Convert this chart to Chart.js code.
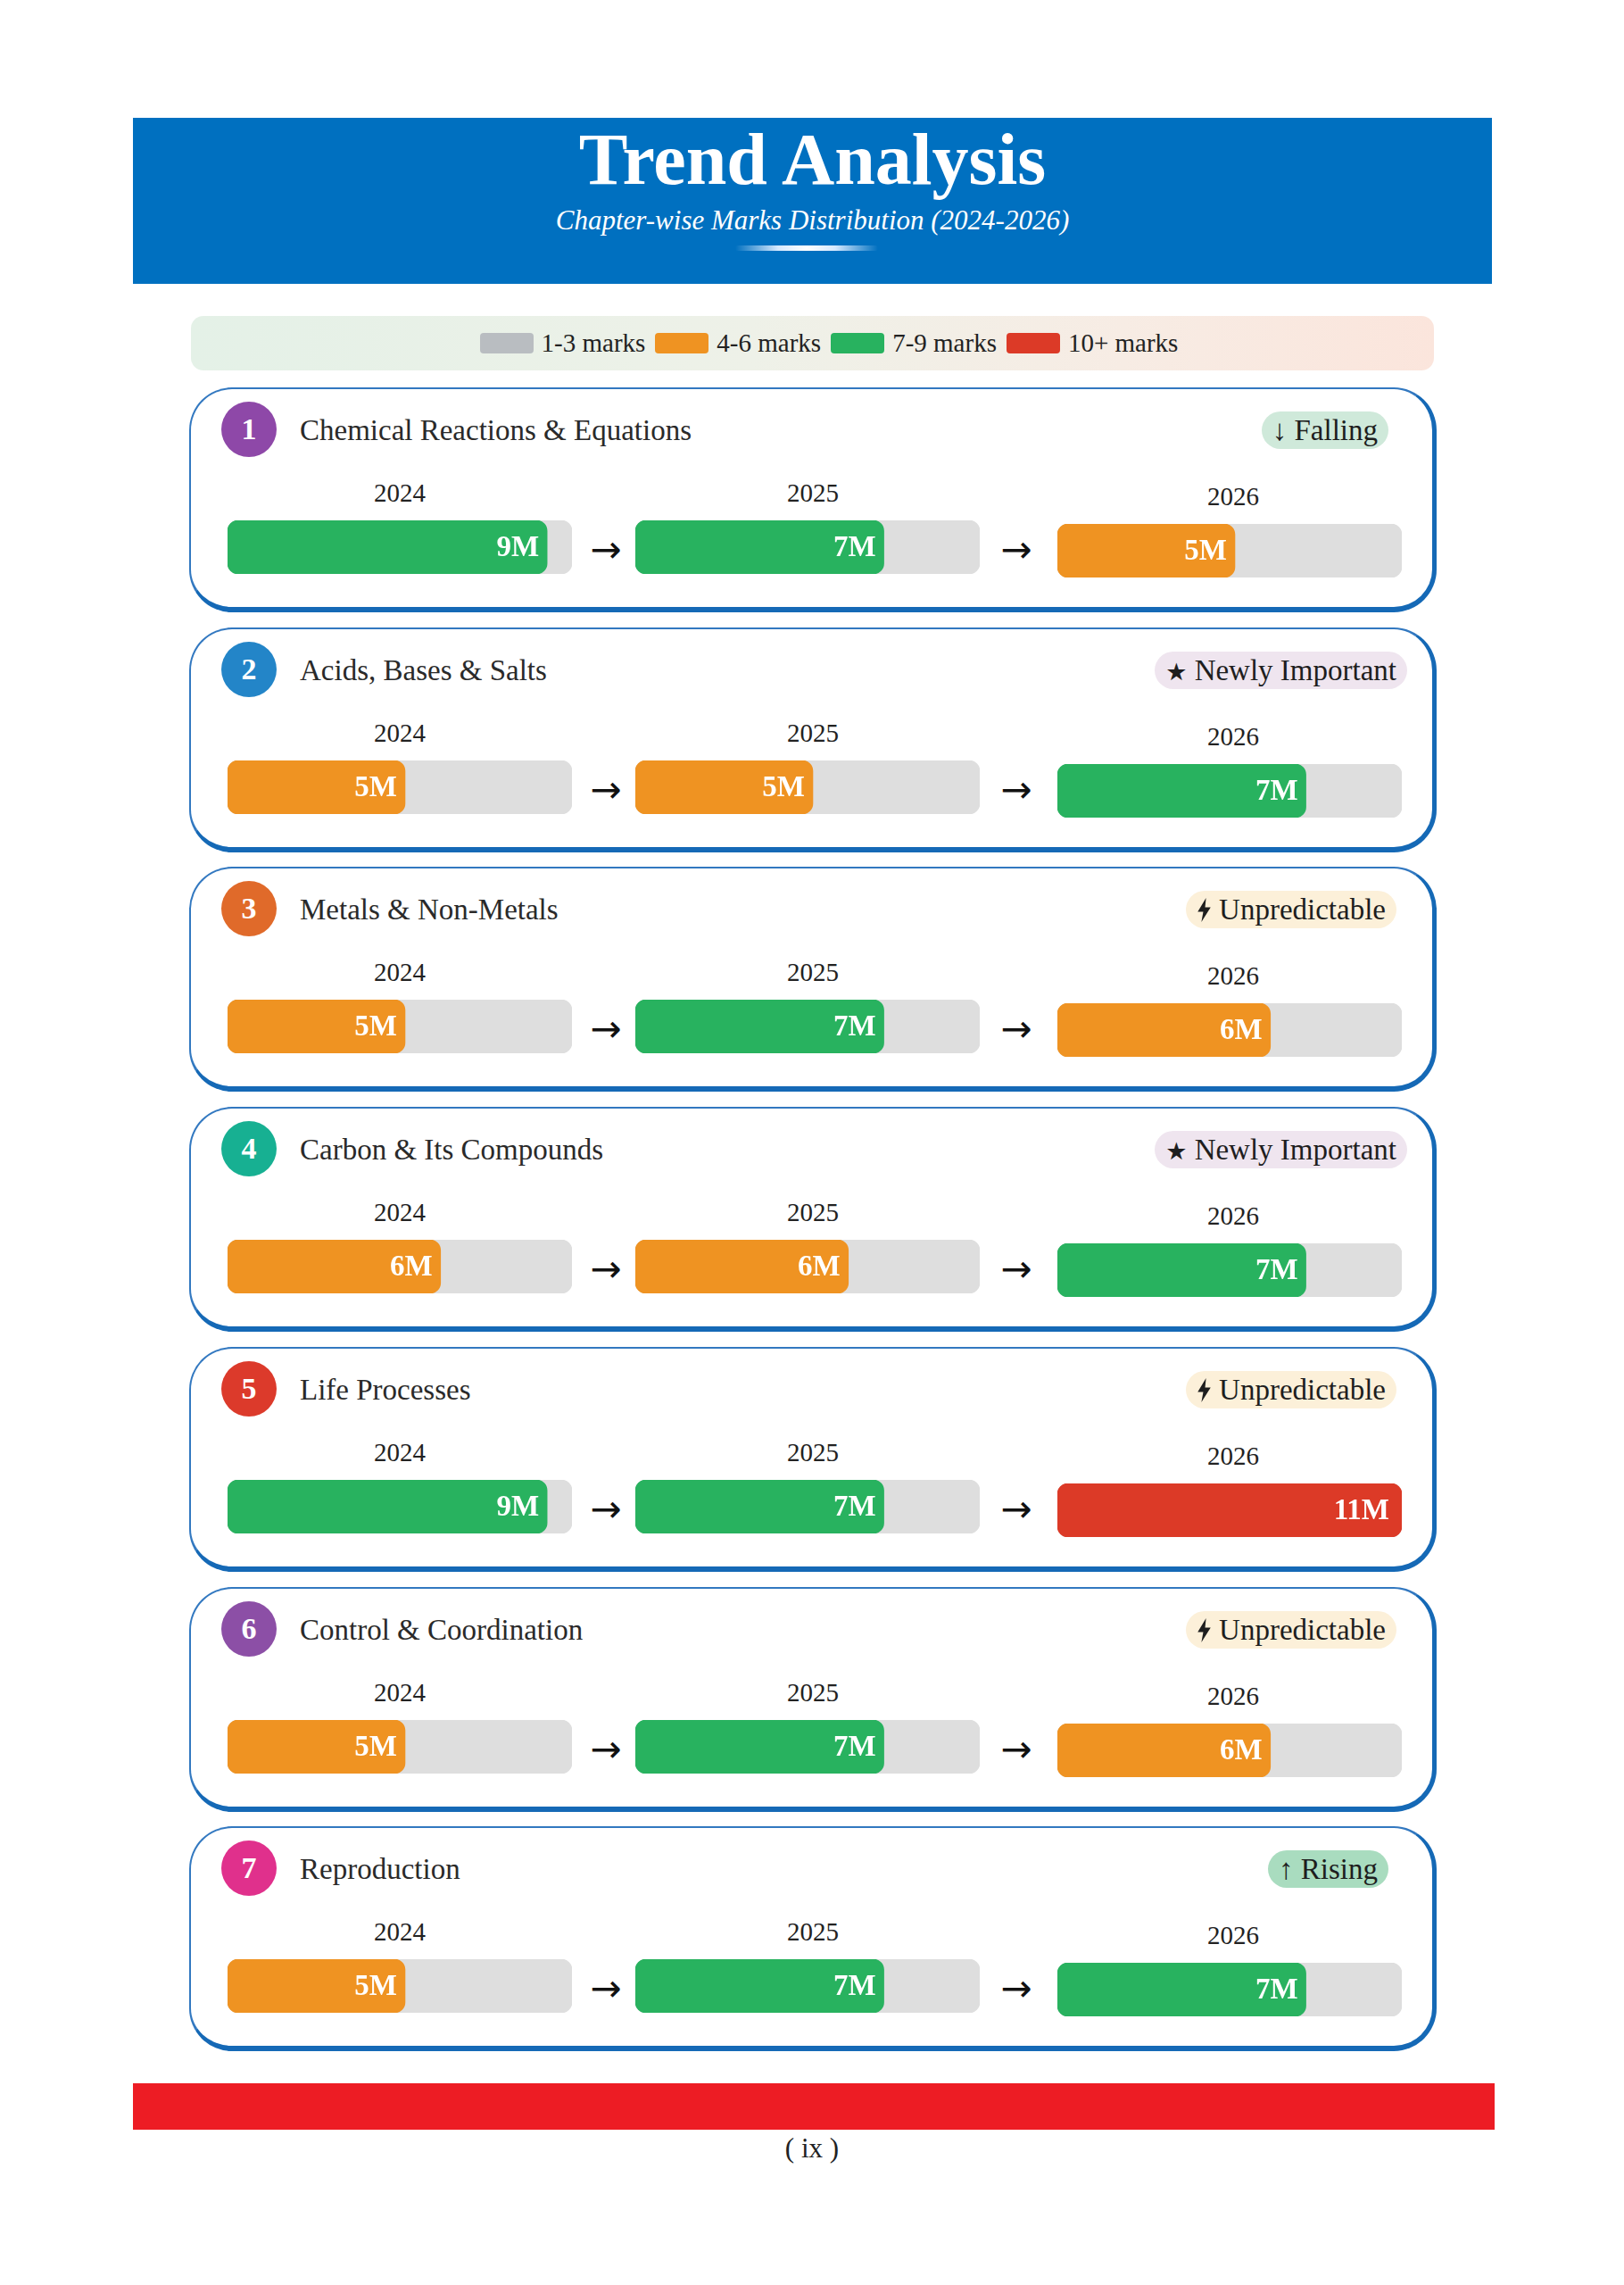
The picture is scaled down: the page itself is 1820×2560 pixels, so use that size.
<!DOCTYPE html>
<html>
<head>
<meta charset="utf-8">
<title>Trend Analysis</title>
<script src="https://cdn.jsdelivr.net/npm/chart.js@4.4.1/dist/chart.umd.min.js"></script>
<style>
  body { margin: 0; background: #fff; width: 1820px; height: 2560px; position: relative;
         font-family: "Palatino Linotype", "Book Antiqua", Palatino, "Liberation Serif", serif; color: #222; }
  .header { position: absolute; left: 149px; top: 132px; width: 1523px; height: 186px; background: #0070c0; }
  .header h1 { position: absolute; left: 0; right: 0; top: 6px; margin: 0; text-align: center; color: #fff;
               font-size: 82px; font-weight: bold; line-height: 1; }
  .header .sub { position: absolute; left: 0; right: 0; top: 99px; text-align: center; color: #fff;
                 font-size: 31px; font-style: italic; line-height: 1; }
  .header .glow { position: absolute; left: 675px; top: 143px; width: 160px; height: 6px; border-radius: 3px;
                  background: linear-gradient(90deg, rgba(180,215,255,0), #d6e9ff 30%, #fff 50%, #d6e9ff 70%, rgba(180,215,255,0)); }
  .legend { position: absolute; left: 214px; top: 354px; width: 1393px; height: 61px; border-radius: 14px;
            background: linear-gradient(90deg, #e4f1e7, #eef1e8 45%, #f7ece4 75%, #fbe5dc);
            display: flex; align-items: center; justify-content: center; padding-left: 26px; box-sizing: border-box;
            font-size: 29px; color: #222; }
  .legend .sw { width: 60px; height: 23px; border-radius: 4px; margin: 0 9px 0 11px; }
  .card { position: absolute; left: 212px; width: 1398px; height: 252px; box-sizing: border-box;
          border: 2px solid #3278c0; border-right: 5px solid #1569b6; border-bottom: 6px solid #1569b6;
          border-radius: 48px; background: #fff; }
  .num { position: absolute; left: 34px; top: 14px; width: 62px; height: 62px; border-radius: 50%;
         color: #fff; font-size: 34px; font-weight: bold; text-align: center; line-height: 62px; }
  .ttl { position: absolute; left: 122px; top: 28px; font-size: 33px; line-height: 36px; color: #2a2a2a; white-space: nowrap; }
  .badge { position: absolute; top: 25px; height: 42px; line-height: 42px; padding: 0 12px;
           border-radius: 21px; font-size: 33px; color: #1e1e1e; white-space: nowrap; }
  .badge svg { vertical-align: -3px; }
  .yr { position: absolute; width: 120px; margin-left: -60px; text-align: center; font-size: 29px; line-height: 30px; color: #222; }
  .arrow { position: absolute; width: 60px; margin-left: -30px; text-align: center; font-size: 42px; line-height: 40px;
           font-family: "DejaVu Sans", sans-serif; color: #111; }
  canvas.bar { position: absolute; }
  .footer { position: absolute; left: 149px; top: 2334px; width: 1526px; height: 52px; background: #ed1c24; }
  .page { position: absolute; left: 0; width: 1820px; top: 2390px; text-align: center; font-size: 31px; line-height: 34px; color: #222; }
</style>
</head>
<body>
<div class="header">
  <h1>Trend Analysis</h1>
  <div class="sub">Chapter-wise Marks Distribution (2024-2026)</div>
  <div class="glow"></div>
</div>
<div class="legend" id="legend"></div>
<div id="cards"></div>
<div class="footer"></div>
<div class="page">( ix )</div>

<script>
// chapter data
const chapters = [
  'Chemical Reactions & Equations',
  'Acids, Bases & Salts',
  'Metals & Non-Metals',
  'Carbon & Its Compounds',
  'Life Processes',
  'Control & Coordination',
  'Reproduction'
];
const years = ['2024', '2025', '2026'];
const marks2024 = [9, 5, 5, 6, 9, 5, 5];
const marks2025 = [7, 5, 7, 6, 7, 7, 7];
const marks2026 = [5, 7, 6, 7, 11, 6, 7];
const trends = ['Falling', 'Newly Important', 'Unpredictable', 'Newly Important', 'Unpredictable', 'Unpredictable', 'Rising'];
const bandLabels = ['1-3 marks', '4-6 marks', '7-9 marks', '10+ marks'];

// styling
const SCALE_MAX = 9.7;
const bandColors = ['#b9bdc1', '#ef9322', '#28b25f', '#dc3a27'];
const circleColors = ['#8e48a8', '#2385c8', '#e06a2a', '#17b092', '#dc3a2b', '#8c4fa6', '#e0308c'];
const trendStyle = {
  'Falling': { bg: '#cfe9da', right: 49, icon: '\u2193' },
  'Rising': { bg: '#a9dcbf', right: 49, icon: '\u2191' },
  'Newly Important': { bg: '#efe5ef', right: 28, icon: '<span style="font-family:\'DejaVu Sans\';font-size:27px">\u2605</span>' },
  'Unpredictable': { bg: '#fcf0d9', right: 40, icon: '<svg width="17" height="27" viewBox="0 0 16 26"><path d="M10 0 L1 15 H7 L5 26 L15 10 H9 Z" fill="#1e1e1e"/></svg>' }
};
const CARD_TOP = 434, CARD_PITCH = 268.7;
const barX = [41, 498, 971];
const barY = [147, 147, 151];
const yearX = [234, 697, 1168];
const yearY = [101, 101, 105];
const arrowX = [465, 925];

function bandColor(v) {
  if (v <= 3) return bandColors[0];
  if (v <= 6) return bandColors[1];
  if (v <= 9) return bandColors[2];
  return bandColors[3];
}

// legend
const legend = document.getElementById('legend');
bandLabels.forEach((lbl, i) => {
  const sw = document.createElement('div');
  sw.className = 'sw';
  sw.style.background = bandColors[i];
  legend.appendChild(sw);
  const t = document.createElement('span');
  t.textContent = lbl;
  legend.appendChild(t);
});

// writes "9M" at the end of the filled bar
function valueLabel(value) {
  return {
    id: 'valueLabel',
    afterDatasetsDraw(chart) {
      const bar = chart.getDatasetMeta(0).data[0];
      const ctx = chart.ctx;
      ctx.save();
      ctx.font = 'bold 33px "Palatino Linotype", "Book Antiqua", Palatino, "Liberation Serif", serif';
      ctx.fillStyle = '#ffffff';
      ctx.textAlign = 'right';
      ctx.textBaseline = 'middle';
      ctx.fillText(value + 'M', bar.x - (value > 9 ? 14 : 9), bar.y + 1);
      ctx.restore();
    }
  };
}

function makeBar(canvas, year, value) {
  const shown = Math.min(value, SCALE_MAX);
  return new Chart(canvas.getContext('2d'), {
    type: 'bar',
    data: {
      labels: [year],
      datasets: [{
        data: [shown],
        backgroundColor: bandColor(value),
        borderRadius: 12,
        borderSkipped: false,
        barPercentage: 1,
        categoryPercentage: 1,
        grouped: false,
        order: 1
      }, {
        data: [SCALE_MAX],
        backgroundColor: '#dedede',
        borderRadius: 12,
        borderSkipped: false,
        barPercentage: 1,
        categoryPercentage: 1,
        grouped: false,
        order: 2
      }]
    },
    options: {
      indexAxis: 'y',
      responsive: false,
      animation: false,
      events: [],
      layout: { padding: 0 },
      scales: {
        x: { display: false, min: 0, max: SCALE_MAX },
        y: { display: false }
      },
      plugins: { legend: { display: false }, tooltip: { enabled: false } }
    },
    plugins: [valueLabel(value)]
  });
}

const cardsEl = document.getElementById('cards');
chapters.forEach((name, i) => {
  const card = document.createElement('div');
  card.className = 'card';
  card.style.top = Math.round(CARD_TOP + i * CARD_PITCH) + 'px';

  const num = document.createElement('div');
  num.className = 'num';
  num.style.background = circleColors[i];
  num.textContent = i + 1;
  card.appendChild(num);

  const ttl = document.createElement('div');
  ttl.className = 'ttl';
  ttl.textContent = name;
  card.appendChild(ttl);

  const st = trendStyle[trends[i]];
  const badge = document.createElement('div');
  badge.className = 'badge';
  badge.style.background = st.bg;
  badge.style.right = st.right + 'px';
  badge.innerHTML = st.icon + ' ' + trends[i];
  card.appendChild(badge);

  const vals = [marks2024[i], marks2025[i], marks2026[i]];
  years.forEach((yr, j) => {
    const y = document.createElement('div');
    y.className = 'yr';
    y.style.left = yearX[j] + 'px';
    y.style.top = yearY[j] + 'px';
    y.textContent = yr;
    card.appendChild(y);

    const cv = document.createElement('canvas');
    cv.className = 'bar';
    cv.width = 386;
    cv.height = 60;
    cv.style.width = '386px';
    cv.style.height = '60px';
    cv.style.left = barX[j] + 'px';
    cv.style.top = barY[j] + 'px';
    card.appendChild(cv);

    if (j < 2) {
      const a = document.createElement('div');
      a.className = 'arrow';
      a.style.left = arrowX[j] + 'px';
      a.style.top = (barY[j] + 13) + 'px';
      a.textContent = '\u2192';
      card.appendChild(a);
    }
  });
  cardsEl.appendChild(card);

  card.querySelectorAll('canvas.bar').forEach((cv, j) => makeBar(cv, years[j], vals[j]));
});
</script>
</body>
</html>
